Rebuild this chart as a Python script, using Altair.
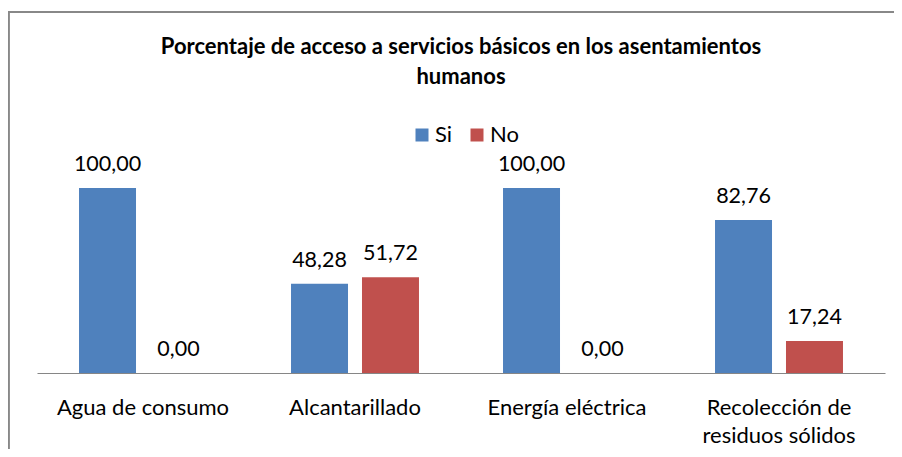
import altair as alt
import pandas as pd

categories = ["Agua de consumo", "Alcantarillado", "Energía eléctrica", "Recolección de residuos sólidos"]
series = ["Si", "No"]
si_values = [100.00, 48.28, 100.00, 82.76]
no_values = [0.00, 51.72, 0.00, 17.24]
colors = ["#4F81BD", "#C0504D"]

rows = []
for c, s, n in zip(categories, si_values, no_values):
    rows.append({"categoria": c, "serie": "Si", "valor": s})
    rows.append({"categoria": c, "serie": "No", "valor": n})
df = pd.DataFrame(rows)

FONT = "Lato"

x_enc = alt.X(
    "categoria:N",
    sort=categories,
    scale=alt.Scale(paddingInner=0, paddingOuter=0),
    axis=alt.Axis(
        title=None,
        labelAngle=0,
        labelFont=FONT,
        labelFontSize=22,
        labelColor="#000000",
        labelPadding=24,
        labelLimit=400,
        labelLineHeight=28,
        labelExpr="datum.value == 'Recolección de residuos sólidos' ? ['Recolección de', 'residuos sólidos'] : datum.value",
        domainColor="#868686",
        domainWidth=1.2,
        ticks=False,
        grid=False,
    ),
)
xoff_enc = alt.XOffset(
    "serie:N",
    sort=series,
    scale=alt.Scale(paddingInner=0.197, paddingOuter=0.592),
)
y_enc = alt.Y("valor:Q", scale=alt.Scale(domain=[0, 100]), axis=None)

bars = alt.Chart(df).mark_bar().encode(
    x=x_enc,
    xOffset=xoff_enc,
    y=y_enc,
    color=alt.Color(
        "serie:N",
        sort=series,
        scale=alt.Scale(domain=series, range=colors),
        legend=alt.Legend(
            title=None,
            orient="none",
            direction="horizontal",
            legendX=374,
            legendY=-64,
            symbolType="square",
            symbolSize=169,
            symbolStrokeWidth=0,
            symbolOpacity=1,
            labelFont=FONT,
            labelFontSize=22,
            labelColor="#000000",
            labelOffset=2,
            columnPadding=13,
            padding=0,
        ),
    ),
)

labels = alt.Chart(df).transform_calculate(
    etiqueta="replace(format(datum.valor, '.2f'), '.', ',')"
).mark_text(font=FONT, fontSize=21.5, color="#000000", baseline="alphabetic", dy=-17).encode(
    x=x_enc,
    xOffset=xoff_enc,
    y=y_enc,
    text="etiqueta:N",
)

frame_left = alt.Chart(df).mark_rule(color="#888888", strokeWidth=1.5).encode(
    x=alt.value(-28.5), y=alt.value(-176), y2=alt.value(261)
)
frame_top = alt.Chart(df).mark_rule(color="#888888", strokeWidth=1.5).encode(
    x=alt.value(-29), x2=alt.value(857), y=alt.value(-176), y2=alt.value(-176)
)

chart = alt.layer(frame_left, frame_top, bars, labels).properties(
    width=848,
    height=185,
    background="white",
    autosize=alt.AutoSizeParams(type="none"),
    padding={"left": 29, "top": 180, "right": 9, "bottom": 76},
    title=alt.TitleParams(
        text=["Porcentaje de acceso a servicios básicos en los asentamientos", "humanos"],
        font=FONT,
        fontSize=22,
        fontWeight="bold",
        color="#000000",
        anchor="middle",
        lineHeight=30,
        offset=-78,
    ),
).configure_view(stroke=None)

chart.save("out.html", embed_options={"renderer": "svg", "actions": False})
